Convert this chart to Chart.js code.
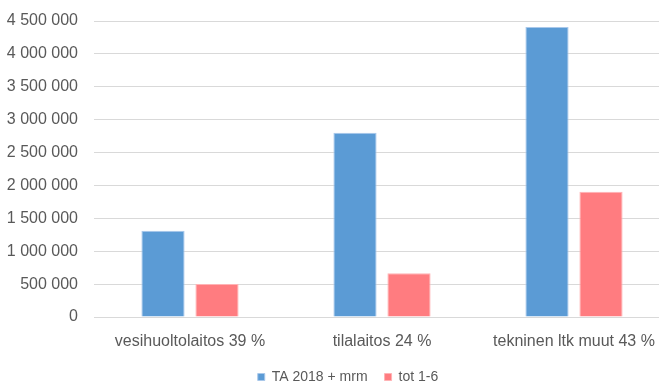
<!DOCTYPE html>
<html>
<head>
<meta charset="utf-8">
<script src="https://cdn.jsdelivr.net/npm/chart.js@4/dist/chart.umd.min.js"></script>
<style>
  html, body { margin: 0; padding: 0; background: #fff; overflow: hidden; }
  #wrap { position: relative; width: 670px; height: 394px; }
</style>
</head>
<body>
<div id="wrap"><canvas id="barChart"></canvas></div>
<script>
// Categories and the two series
const categories = ['vesihuoltolaitos 39 %', 'tilalaitos 24 %', 'tekninen ltk muut 43 %'];
const taValues = [1310000, 2800000, 4410000];
const totValues = [500000, 665000, 1905000];
const seriesNames = ['TA 2018 + mrm', 'tot 1-6'];

// Finnish style grouping: 4 500 000
function fmt(v) {
  return String(v).replace(/\B(?=(\d{3})+(?!\d))/g, ' ');
}

const family = "'Liberation Sans', Arial, sans-serif";
const axisFont = { family: family, size: 16 };
const legendFont = { family: family, size: 14 };
const textColor = '#595959';

// nudge the legend a little to the right of the canvas centre
const legendShift = {
  id: 'legendShift',
  afterLayout(chart) {
    chart.legend.left += 13;
    chart.legend.right += 13;
  }
};

const ctx = document.getElementById('barChart').getContext('2d');
new Chart(ctx, {
  type: 'bar',
  data: {
    labels: categories,
    datasets: [{
      label: seriesNames[0],
      data: taValues,
      backgroundColor: '#5b9bd5',
      borderColor: '#a9c8ea',
      borderWidth: 1,
      barPercentage: 0.8,
      categoryPercentage: 0.5625
    }, {
      label: seriesNames[1],
      data: totValues,
      backgroundColor: '#ff7c80',
      borderColor: '#ffb3b5',
      borderWidth: 1,
      barPercentage: 0.8,
      categoryPercentage: 0.5625
    }]
  },
  options: {
    responsive: true,
    maintainAspectRatio: false,
    animation: false,
    layout: { padding: { top: 21, left: 0, right: 0, bottom: 0 } },
    plugins: {
      tooltip: { enabled: false },
      legend: {
        position: 'bottom',
        labels: {
          color: textColor,
          font: legendFont,
          boxWidth: 7,
          boxHeight: 7,
          padding: 17
        }
      }
    },
    scales: {
      x: {
        afterFit: (scale) => { scale.height = 36; },
        grid: { display: false, drawTicks: false },
        border: { display: false },
        ticks: { color: textColor, font: axisFont, padding: 15, maxRotation: 0 }
      },
      y: {
        min: 0,
        max: 4500000,
        afterFit: (scale) => { scale.width = 94; },
        // invisible tick marks keep the labels clear of the grid
        grid: { color: '#d9d9d9', lineWidth: 1, drawTicks: true, tickLength: 14, tickColor: 'rgba(0,0,0,0)' },
        border: { display: false },
        ticks: {
          stepSize: 500000,
          color: textColor,
          font: axisFont,
          padding: 2,
          callback: (v) => fmt(v)
        }
      }
    }
  },
  plugins: [legendShift]
});
</script>
</body>
</html>
